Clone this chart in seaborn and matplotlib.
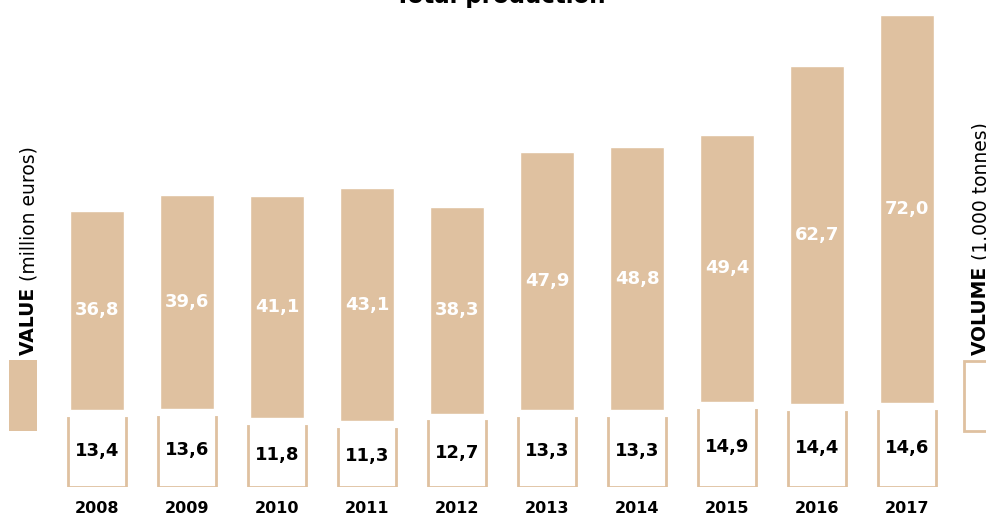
import numpy as np
import pandas as pd
import seaborn as sns
import matplotlib.pyplot as plt
from matplotlib.patches import Rectangle

years = ['2008', '2009', '2010', '2011', '2012', '2013', '2014', '2015', '2016', '2017']
value = [36.8, 39.6, 41.1, 43.1, 38.3, 47.9, 48.8, 49.4, 62.7, 72.0]   # million euros
volume = [13.4, 13.6, 11.8, 11.3, 12.7, 13.3, 13.3, 14.9, 14.4, 14.6]  # 1.000 tonnes

tan = '#DFC1A0'
gap = 0.9

sns.set_theme(style='white')
plt.rcParams['font.family'] = ['DejaVu Sans']
plt.rcParams['text.color'] = 'black'
plt.rcParams['xtick.color'] = 'black'

df = pd.DataFrame({'year': years, 'value': value, 'volume': volume})
df['base'] = df.volume + gap

fig = plt.figure(figsize=(9.86, 5.19), dpi=100)
ax = fig.add_axes([52 / 986, 32 / 519, 900 / 986, 487 / 519])

# volume boxes (white, open at top)
sns.barplot(data=df, x='year', y='volume', color='white', edgecolor=tan,
            linewidth=2, width=0.65, saturation=1, ax=ax)
xs = np.arange(len(years))
ax.hlines(df.volume, xs - 0.34, xs + 0.34, color='white', lw=3, zorder=3)

# value bars stacked above
sns.barplot(data=df, x='year', y='value', bottom=df.base, color=tan,
            width=0.59, saturation=1, ax=ax)

for i, row in df.iterrows():
    ax.text(i, row.base + row.value / 2, f'{row.value:.1f}'.replace('.', ','),
            ha='center', va='center', color='white', fontsize=13, fontweight='bold')
    ax.text(i, row.volume / 2, f'{row.volume:.1f}'.replace('.', ','),
            ha='center', va='center', color='black', fontsize=13, fontweight='bold')

ax.set_xlim(-0.5, 9.5)
ax.set_ylim(0, 487 / 5.4)
ax.set_xlabel('')
ax.set_ylabel('')
ax.set_yticks([])
ax.tick_params(axis='x', length=0, pad=10)
for lab in ax.get_xticklabels():
    lab.set_fontweight('bold')
    lab.set_fontsize(11.5)
sns.despine(ax=ax, left=True, bottom=True)

fig.text(500 / 986, 0.995, 'Total production', ha='center', va='baseline',
         fontsize=16.5, fontweight='bold')

renderer = fig.canvas.get_renderer()


def side_label(x, y, bold_part, rest):
    # bold word first, lighter remainder continues upward
    t = fig.text(x, y, bold_part + ' ', rotation=90, ha='center', va='bottom',
                 fontsize=13.5, fontweight='bold')
    bb = t.get_window_extent(renderer)
    fig.text(x, y + bb.height / fig.bbox.height, rest, rotation=90,
             ha='center', va='bottom', fontsize=13.5)


# left legend
side_label(29 / 986, (519 - 355) / 519, 'VALUE', '(million euros)')
fig.patches.append(Rectangle((9 / 986, (519 - 431) / 519), 28 / 986, 71 / 519,
                             transform=fig.transFigure, facecolor=tan, edgecolor='none'))

# right legend
side_label(981 / 986, (519 - 355) / 519, 'VOLUME', '(1.000 tonnes)')
fig.patches.append(Rectangle((964 / 986, (519 - 431) / 519), 30 / 986, 70 / 519,
                             transform=fig.transFigure, facecolor='white',
                             edgecolor=tan, linewidth=2))

fig.savefig('out.png', dpi=100)
